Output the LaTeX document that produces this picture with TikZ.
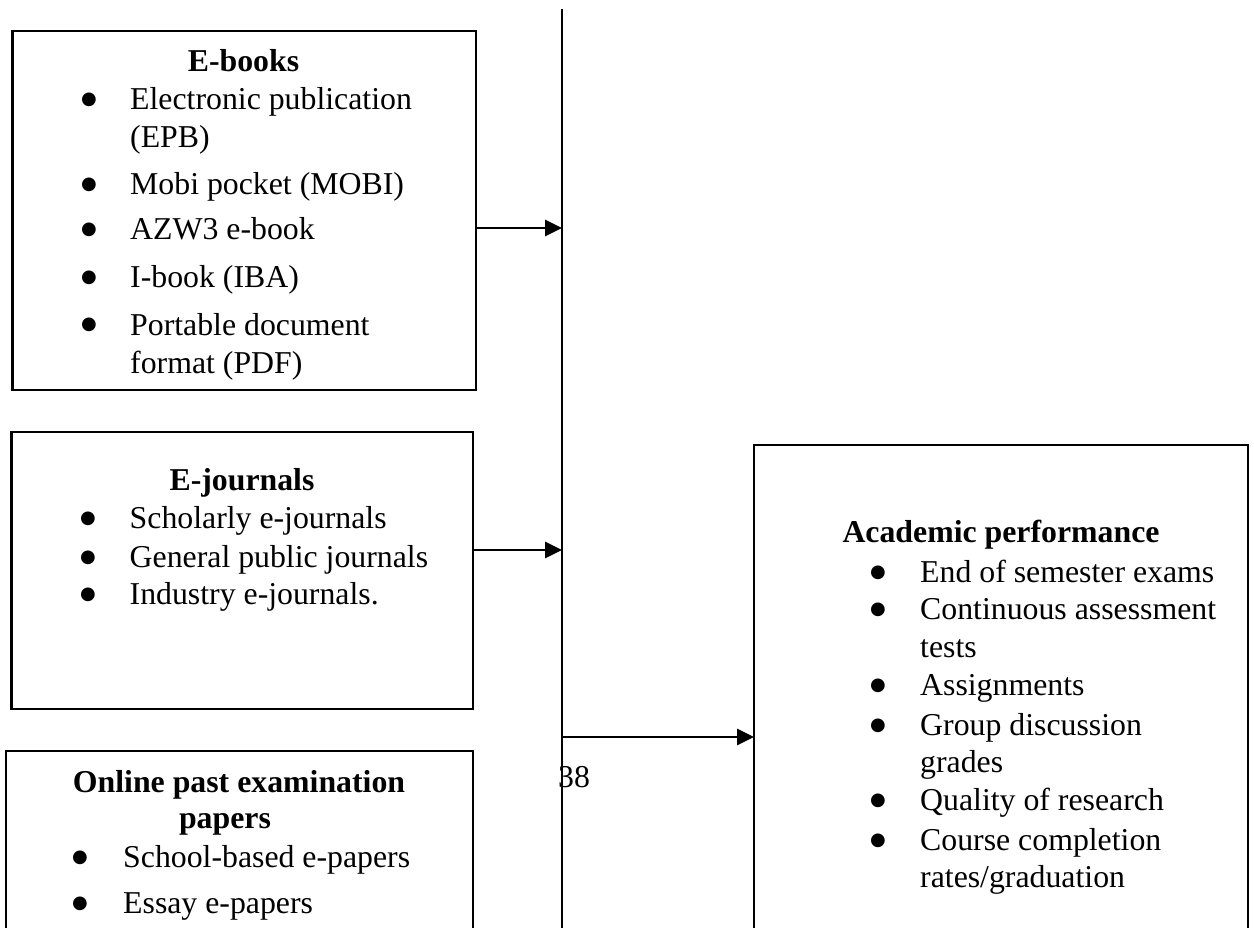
\documentclass[tikz,border=0pt]{standalone}
\usepackage{fontspec}
\setmainfont{Liberation Serif}
\newfontfamily\symfont{DejaVu Sans}
\usetikzlibrary{arrows.meta}
\newcommand\myfs{\fontsize{31.8}{37.5}\selectfont}
\newcommand\bulfs{\symfont\fontsize{18}{18}\selectfont}
\tikzset{
  box/.style={draw, line width=2.7pt, rectangle, inner sep=0pt, outer sep=0pt, anchor=north west},
  txt/.style={anchor=base west, inner sep=0pt, font=\myfs},
  ttl/.style={anchor=base, inner sep=0pt, font=\myfs\bfseries},
  bul/.style={anchor=base, inner sep=0pt, font=\bulfs, yshift=5pt},
  trunk/.style={line width=2.7pt},
  arr/.style={line width=2.7pt, -{Triangle[length=17pt,width=16pt]}},
}
\begin{document}
\begin{tikzpicture}[x=1pt,y=1pt]
\clip (0,0) rectangle (1254,-928);
\fill[white] (0,0) rectangle (1254,-928);

% boxes
\node[box, minimum width=463.5pt, minimum height=359pt] (ebooks) at (12.5,-31) {};
\node[box, minimum width=461.5pt, minimum height=277pt] (ejour) at (11.5,-432) {};
\node[box, minimum width=467pt, minimum height=200pt] (online) at (6,-751) {};
\node[box, minimum width=494pt, minimum height=505pt] (acad) at (754,-445) {};

% E-books text
\node[ttl] (eb0) at (243.5,-72) {E-books};
\node[bul] (eb1b) at (89,-110) {●};
\node[txt] (eb1) at (130,-110) {Electronic publication};
\node[txt] (eb1c) at (130,-148) {(EPB)};
\node[bul] (eb2b) at (89,-195) {●};
\node[txt] (eb2) at (130,-195) {Mobi pocket (MOBI)};
\node[bul] (eb3b) at (89,-240) {●};
\node[txt] (eb3) at (130,-240) {AZW3 e-book};
\node[bul] (eb4b) at (89,-288) {●};
\node[txt] (eb4) at (130,-288) {I-book (IBA)};
\node[bul] (eb5b) at (89,-335) {●};
\node[txt] (eb5) at (130,-335) {Portable document};
\node[txt] (eb5c) at (130,-373) {format (PDF)};

% E-journals text
\node[ttl] (ej0) at (242,-490) {E-journals};
\node[bul] (ej1b) at (88,-528) {●};
\node[txt] (ej1) at (129.5,-528) {Scholarly e-journals};
\node[bul] (ej2b) at (88,-567) {●};
\node[txt] (ej2) at (129.5,-567) {General public journals};
\node[bul] (ej3b) at (88,-604) {●};
\node[txt] (ej3) at (129.5,-604) {Industry e-journals.};

% Online past examination papers text
\node[ttl] (op0) at (239,-792) {Online past examination};
\node[ttl] (op0b) at (225,-828) {papers};
\node[bul] (op1b) at (80,-867) {●};
\node[txt] (op1) at (123,-867) {School-based e-papers};
\node[bul] (op2b) at (80,-913) {●};
\node[txt] (op2) at (123,-913) {Essay e-papers};

% Academic performance text
\node[ttl] (ap0) at (1001,-542) {Academic performance};
\node[bul] (ap1b) at (878,-582) {●};
\node[txt] (ap1) at (920,-582) {End of semester exams};
\node[bul] (ap2b) at (878,-619) {●};
\node[txt] (ap2) at (920,-619) {Continuous assessment};
\node[txt] (ap2c) at (920,-657) {tests};
\node[bul] (ap3b) at (878,-695) {●};
\node[txt] (ap3) at (920,-695) {Assignments};
\node[bul] (ap4b) at (878,-735) {●};
\node[txt] (ap4) at (920,-735) {Group discussion};
\node[txt] (ap4c) at (920,-772) {grades};
\node[bul] (ap5b) at (878,-810) {●};
\node[txt] (ap5) at (920,-810) {Quality of research};
\node[bul] (ap6b) at (878,-850) {●};
\node[txt] (ap6) at (920,-850) {Course completion};
\node[txt] (ap6c) at (920,-887) {rates/graduation};

% page number
\node[txt] (pg) at (558,-787) {38};

% trunk and connectors
\coordinate (ttop) at (562,-9);
\coordinate (tbot) at (562,-950);
\coordinate (t1) at (562,-228);
\coordinate (t2) at (562,-550);
\coordinate (t3) at (562,-737);
\draw[trunk] (ttop) -- (tbot);
\draw[arr] (ebooks.east |- t1) -- (t1);
\draw[arr] (ejour.east |- t2) -- (t2);
\draw[arr] (t3) -- (acad.west |- t3);
\end{tikzpicture}
\end{document}
